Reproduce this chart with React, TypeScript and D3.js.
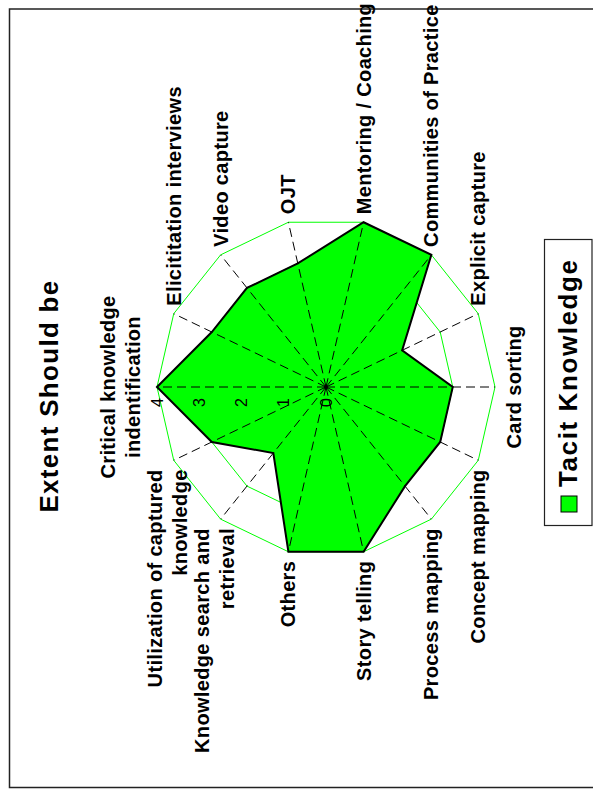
import React from "react";
import * as d3 from "d3";

// Radar categories (each entry is the label split into its display lines)
const categoryLines: string[][] = [
  ["Critical knowledge", "indentification"],
  ["Elicititation interviews"],
  ["Video capture"],
  ["OJT"],
  ["Mentoring / Coaching"],
  ["Communities of Practice"],
  ["Explicit capture"],
  ["Card sorting"],
  ["Concept mapping"],
  ["Process mapping"],
  ["Story telling"],
  ["Others"],
  ["Knowledge search and", "retrieval"],
  ["Utilization of captured", "knowledge"],
];

// "Extent Should be" scores for tacit knowledge
const tacitValues: number[] = [4, 3, 3, 3, 4, 4, 2, 3, 3, 3, 4, 4, 2, 3];

const radialTicks: number[] = [0, 1, 2, 3, 4];
const seriesName = "Tacit Knowledge";
const chartTitle = "Extent Should be";

const FONT = "'Liberation Sans', Arial, Helvetica, sans-serif";
const GREEN = "#00FF00";

export default function App() {
  // Chart is laid out landscape (792 x 593) and turned a quarter turn counter-clockwise.
  const W = 792;
  const H = 593;
  const cx = 405;
  const cy = 326;
  const n = categoryLines.length;

  const r = d3.scaleLinear().domain([0, 4]).range([0, 169]);
  const angle = (i: number) => (i * 2 * Math.PI) / n;
  const pt = (i: number, v: number): [number, number] => [
    cx + r(v) * Math.sin(angle(i)),
    cy - r(v) * Math.cos(angle(i)),
  ];

  const radial = d3
    .lineRadial<number>()
    .angle((_, i) => angle(i))
    .radius((d) => r(d))
    .curve(d3.curveLinearClosed);

  const ringPath = (v: number) => radial(d3.range(n).map(() => v)) as string;
  const areaPath = radial(tacitValues) as string;

  const lh = 25;

  const labels = categoryLines.map((lines, i) => {
    const a = angle(i);
    const s = Math.sin(a);
    const [vx, vy] = pt(i, 4);
    let x = vx;
    let anchor: "start" | "end" | "middle" = "middle";
    let firstBaseline: number;
    if (Math.abs(s) < 0.1) {
      if (Math.cos(a) > 0) {
        // top: block ends above the ring
        firstBaseline = vy - 17 - (lines.length - 1) * lh;
      } else {
        firstBaseline = vy + 26;
      }
    } else {
      x = s > 0 ? vx + 8 : vx - 9;
      anchor = s > 0 ? "start" : "end";
      firstBaseline = vy + 7 - (lines.length - 1) * 19;
    }
    return (
      <text
        key={i}
        x={x}
        y={firstBaseline}
        textAnchor={anchor}
        fontFamily={FONT}
        fontWeight="bold"
        fontSize={20}
        letterSpacing={0.35}
        fill="#000"
      >
        {lines.map((ln, k) => (
          <tspan key={k} x={x} dy={k === 0 ? 0 : lh}>
            {ln}
          </tspan>
        ))}
      </text>
    );
  });

  return (
    <svg
      width={593}
      height={792}
      style={{ position: "absolute", left: 0, top: 0, background: "#fff" }}
    >
      <g transform={`translate(0,${W}) rotate(-90)`}>
        <rect x={0} y={0} width={W} height={H} fill="#fff" />
        {/* outer frame */}
        <rect
          x={4.5}
          y={9.5}
          width={778.5}
          height={620}
          fill="none"
          stroke="#222"
          strokeWidth={1.5}
        />

        <text
          x={396}
          y={57.5}
          textAnchor="middle"
          fontFamily={FONT}
          fontWeight="bold"
          fontSize={26}
          letterSpacing={1.3}
        >
          {chartTitle}
        </text>

        <g transform={`translate(${cx},${cy})`}>
          {radialTicks
            .filter((t) => t > 0)
            .map((t) => (
              <path key={t} d={ringPath(t)} fill="none" stroke={GREEN} strokeWidth={1} />
            ))}
          <path d={areaPath} fill={GREEN} stroke="#000" strokeWidth={2} strokeLinejoin="miter" />
        </g>

        {/* spokes */}
        {d3.range(n).map((i) => {
          const [x2, y2] = pt(i, 4);
          return (
            <line
              key={i}
              x1={cx}
              y1={cy}
              x2={x2}
              y2={y2}
              stroke="#000"
              strokeWidth={1}
              strokeDasharray="9,5"
            />
          );
        })}
        <circle cx={cx} cy={cy} r={2} fill="#000" />

        {/* value axis labels */}
        {radialTicks.map((t) => (
          <text
            key={t}
            x={cx - 11}
            y={cy - r(t)}
            dy="0.35em"
            textAnchor="end"
            fontFamily={FONT}
            fontSize={16}
            fill="#000"
          >
            {t}
          </text>
        ))}

        {labels}

        {/* legend */}
        <rect x={266.5} y={544.5} width={286} height={47.5} fill="#fff" stroke="#222" strokeWidth={1.2} />
        <rect x={280} y={561} width={16} height={16} fill={GREEN} stroke="#000" strokeWidth={1} />
        <text
          x={305}
          y={577}
          fontFamily={FONT}
          fontWeight="bold"
          fontSize={26}
          letterSpacing={1.6}
        >
          {seriesName}
        </text>
      </g>
    </svg>
  );
}
